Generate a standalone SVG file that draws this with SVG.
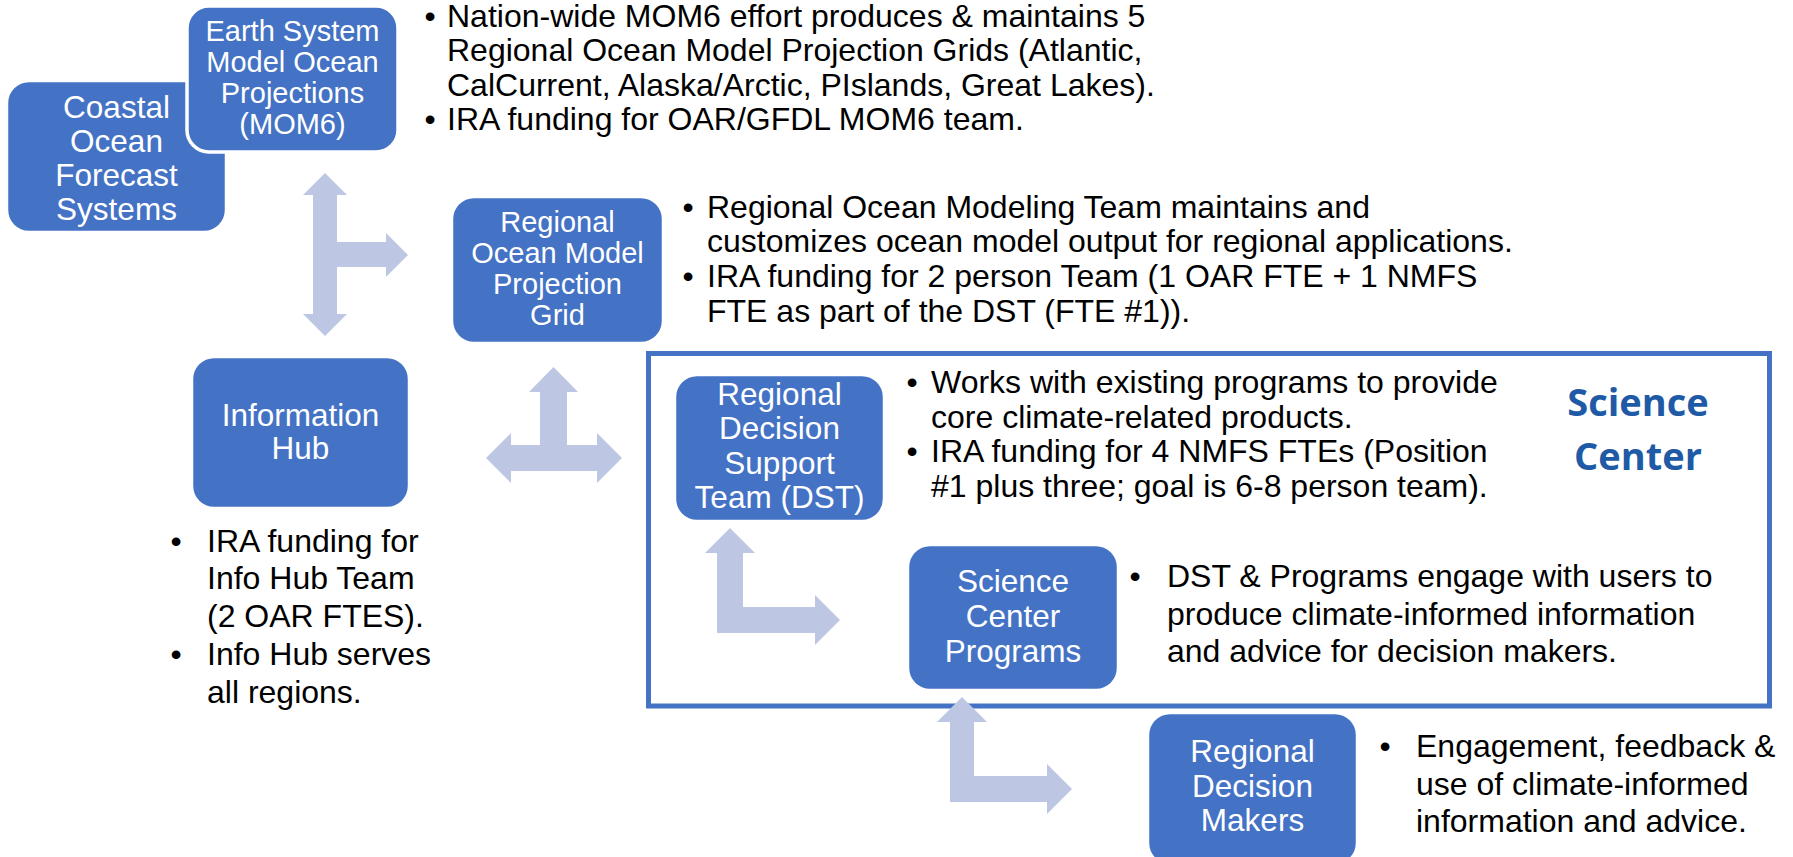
<svg xmlns="http://www.w3.org/2000/svg" width="1793" height="857" viewBox="0 0 1793 857">
<style>
.node{fill:#4472C4;stroke:#FFFFFF;stroke-width:2.5}
.nt{font-family:"Liberation Sans",Arial,sans-serif;fill:#FFFFFF;text-anchor:middle}
.s29{font-size:29px}
.s31{font-size:31.5px}
.bt{font-family:"Liberation Sans",Arial,sans-serif;font-size:32px;fill:#000000}
.dot{text-anchor:middle}
.arrow{fill:#BDC7E4}
.sc{fill:none;stroke:#4472C4;stroke-width:5}
.sctitle{font-family:"Open Sans","Noto Sans",sans-serif;font-weight:bold;font-size:38px;fill:#1F5AA6;text-anchor:middle}
</style>
<rect width="1793" height="857" fill="#FFFFFF"/>

<g id="science-center">
<rect class="sc" x="648.5" y="353.5" width="1121" height="352.5"/>
<text class="sctitle" x="1638" y="416">Science</text>
<text class="sctitle" x="1638" y="470">Center</text>
</g>

<g id="connectors">
<polygon class="arrow" points="325,173 347,195 337,195 337,242 386,242 386,233 408,255 386,277 386,267 337,267 337,314 347,314 325,336 303,314 313,314 313,195 303,195"/>
<polygon class="arrow" points="553.5,367 578,392 567,392 567,445 597,445 597,433 622,458 597,483 597,471 511,471 511,483 486,458 511,433 511,445 540,445 540,392 529,392"/>
<polygon class="arrow" points="730,528 755,553 743,553 743,607 815,607 815,595 840,620 815,645 815,633 717,633 717,553 705,553"/>
<polygon class="arrow" points="962,697 987,722 974,722 974,776 1047,776 1047,764 1072,789 1047,814 1047,802 950,802 950,722 937,722"/>
</g>

<g id="coastal">
<rect class="node" x="7" y="81" width="219" height="151" rx="22"/>
<text class="nt s31" x="116.5" y="118">Coastal</text>
<text class="nt s31" x="116.5" y="152">Ocean</text>
<text class="nt s31" x="116.5" y="186">Forecast</text>
<text class="nt s31" x="116.5" y="220">Systems</text>
</g>

<g id="earth-system">
<rect class="node" x="187" y="6" width="211" height="146" rx="22" style="stroke-width:3.5"/>
<text class="nt s29" x="292.5" y="41">Earth System</text>
<text class="nt s29" x="292.5" y="72">Model Ocean</text>
<text class="nt s29" x="292.5" y="103">Projections</text>
<text class="nt s29" x="292.5" y="134">(MOM6)</text>
</g>

<g id="earth-bullets">
<text class="bt dot" x="430" y="27">•</text>
<text class="bt" x="447" y="27">Nation-wide MOM6 effort produces &amp; maintains 5</text>
<text class="bt" x="447" y="61">Regional Ocean Model Projection Grids (Atlantic,</text>
<text class="bt" x="447" y="96">CalCurrent, Alaska/Arctic, PIslands, Great Lakes).</text>
<text class="bt dot" x="430" y="130">•</text>
<text class="bt" x="447" y="130">IRA funding for OAR/GFDL MOM6 team.</text>
</g>

<g id="regional-ocean-grid">
<rect class="node" x="452" y="197" width="211" height="146" rx="22"/>
<text class="nt s29" x="557.5" y="232">Regional</text>
<text class="nt s29" x="557.5" y="263">Ocean Model</text>
<text class="nt s29" x="557.5" y="294">Projection</text>
<text class="nt s29" x="557.5" y="325">Grid</text>
</g>

<g id="regional-ocean-bullets">
<text class="bt dot" x="688" y="218">•</text>
<text class="bt" x="707" y="218">Regional Ocean Modeling Team maintains and</text>
<text class="bt" x="707" y="252">customizes ocean model output for regional applications.</text>
<text class="bt dot" x="688" y="287">•</text>
<text class="bt" x="707" y="287">IRA funding for 2 person Team (1 OAR FTE + 1 NMFS</text>
<text class="bt" x="707" y="322">FTE as part of the DST (FTE #1)).</text>
</g>

<g id="info-hub">
<rect class="node" x="192" y="357" width="217" height="151" rx="22"/>
<text class="nt s31" x="300.5" y="426">Information</text>
<text class="nt s31" x="300.5" y="459">Hub</text>
</g>

<g id="info-hub-bullets">
<text class="bt dot" x="176" y="552">•</text>
<text class="bt" x="207" y="552">IRA funding for</text>
<text class="bt" x="207" y="589">Info Hub Team</text>
<text class="bt" x="207" y="627">(2 OAR FTES).</text>
<text class="bt dot" x="176" y="665">•</text>
<text class="bt" x="207" y="665">Info Hub serves</text>
<text class="bt" x="207" y="703">all regions.</text>
</g>

<g id="dst">
<rect class="node" x="675" y="375" width="209" height="146" rx="22"/>
<text class="nt s31" x="779.5" y="405">Regional</text>
<text class="nt s31" x="779.5" y="439">Decision</text>
<text class="nt s31" x="779.5" y="474">Support</text>
<text class="nt s31" x="779.5" y="508">Team (DST)</text>
</g>

<g id="dst-bullets">
<text class="bt dot" x="912" y="393">•</text>
<text class="bt" x="931" y="393">Works with existing programs to provide</text>
<text class="bt" x="931" y="428">core climate-related products.</text>
<text class="bt dot" x="912" y="462">•</text>
<text class="bt" x="931" y="462">IRA funding for 4 NMFS FTEs (Position</text>
<text class="bt" x="931" y="497">#1 plus three; goal is 6-8 person team).</text>
</g>

<g id="science-center-programs">
<rect class="node" x="908" y="545" width="210" height="145" rx="22"/>
<text class="nt s31" x="1013" y="592">Science</text>
<text class="nt s31" x="1013" y="627">Center</text>
<text class="nt s31" x="1013" y="662">Programs</text>
</g>

<g id="programs-bullets">
<text class="bt dot" x="1135" y="587">•</text>
<text class="bt" x="1167" y="587">DST &amp; Programs engage with users to</text>
<text class="bt" x="1167" y="624.5">produce climate-informed information</text>
<text class="bt" x="1167" y="662">and advice for decision makers.</text>
</g>

<g id="decision-makers">
<rect class="node" x="1148" y="713" width="209" height="152" rx="22"/>
<text class="nt s31" x="1252.5" y="762">Regional</text>
<text class="nt s31" x="1252.5" y="797">Decision</text>
<text class="nt s31" x="1252.5" y="831">Makers</text>
</g>

<g id="decision-makers-bullets">
<text class="bt dot" x="1385" y="757">•</text>
<text class="bt" x="1416" y="757">Engagement, feedback &amp;</text>
<text class="bt" x="1416" y="795">use of climate-informed</text>
<text class="bt" x="1416" y="832">information and advice.</text>
</g>
</svg>
